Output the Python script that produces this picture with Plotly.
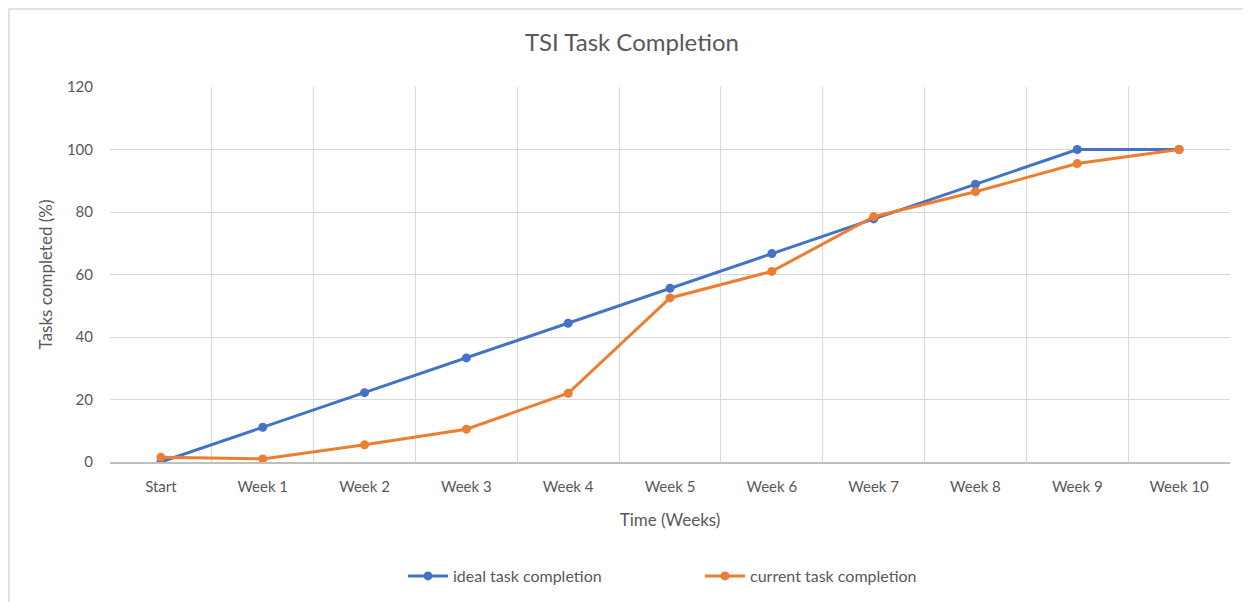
"""
TSI Task Completion - line chart (ideal vs current)
"""

import plotly.graph_objects as go

weeks = ["Start", "Week 1", "Week 2", "Week 3", "Week 4", "Week 5",
         "Week 6", "Week 7", "Week 8", "Week 9", "Week 10"]
ideal = [0, 11.1, 22.2, 33.3, 44.4, 55.6, 66.7, 77.8, 88.9, 100, 100]
current = [1.5, 1, 5.5, 10.5, 22, 52.5, 61, 78.5, 86.5, 95.5, 100]

BLUE = "#4472C4"
ORANGE = "#ED7D31"
GREY_TXT = "#595959"

# la page a une marge de 8px : on décale tout de 8px
OFF = 8
L, R, T, B = 110 - OFF, 1251 - (1230 - OFF), 87 - OFF, 602 - (462 - OFF)
PW, PH = 1251 - L - R, 602 - T - B

fig = go.Figure()
fig.add_trace(go.Scatter(
    x=weeks, y=ideal, name="ideal task completion",
    mode="lines+markers",
    line=dict(color=BLUE, width=3),
    marker=dict(color=BLUE, size=9),
))
fig.add_trace(go.Scatter(
    x=weeks, y=current, name="current task completion",
    mode="lines+markers",
    line=dict(color=ORANGE, width=3),
    marker=dict(color=ORANGE, size=9),
))

# bordure grise du graphique (comme dans Excel)
fig.add_shape(type="rect", xref="paper", yref="paper",
              x0=(1 - L) / PW, x1=(1240 - L) / PW,
              y0=-0.5, y1=(T + PH - 1) / PH,
              line=dict(color="#D9D9D9", width=1.5), layer="below")

fig.update_layout(
    width=1251, height=602,
    margin=dict(l=L, r=R, t=T, b=B),
    paper_bgcolor="white", plot_bgcolor="white",
    font=dict(family="Lato, Open Sans, sans-serif", color=GREY_TXT, size=15),
    title=dict(text="TSI Task Completion", x=(632 - OFF) / 1251, xanchor="center",
               y=1 - (43 - OFF) / 602, yanchor="middle",
               font=dict(size=24, color=GREY_TXT)),
    showlegend=True,
    legend=dict(orientation="h", x=(403 - L - OFF) / PW, xanchor="left",
                y=(462 - 576) / PH, yanchor="middle",
                font=dict(size=16, color=GREY_TXT), itemwidth=40,
                entrywidth=242, entrywidthmode="pixels",
                tracegroupgap=0),
)
fig.update_xaxes(
    type="category", range=[-0.5, 10.5], tickson="boundaries",
    showgrid=True, gridcolor="#D9D9D9", gridwidth=1,
    showline=True, linecolor="#BFBFBF", linewidth=1.5,
    ticks="", tickfont=dict(size=15, color=GREY_TXT), ticklabelstandoff=10,
    title=dict(text="Time (Weeks)", font=dict(size=17, color=GREY_TXT), standoff=20),
)
fig.update_yaxes(
    range=[0, 120], dtick=20,
    showgrid=True, gridcolor="#D9D9D9", gridwidth=1,
    zeroline=False, showline=False, ticks="",
    tickfont=dict(size=15, color=GREY_TXT), ticklabelstandoff=16,
    title=dict(text="Tasks completed (%)", font=dict(size=17, color=GREY_TXT), standoff=9),
)

fig.write_html("out.html")
